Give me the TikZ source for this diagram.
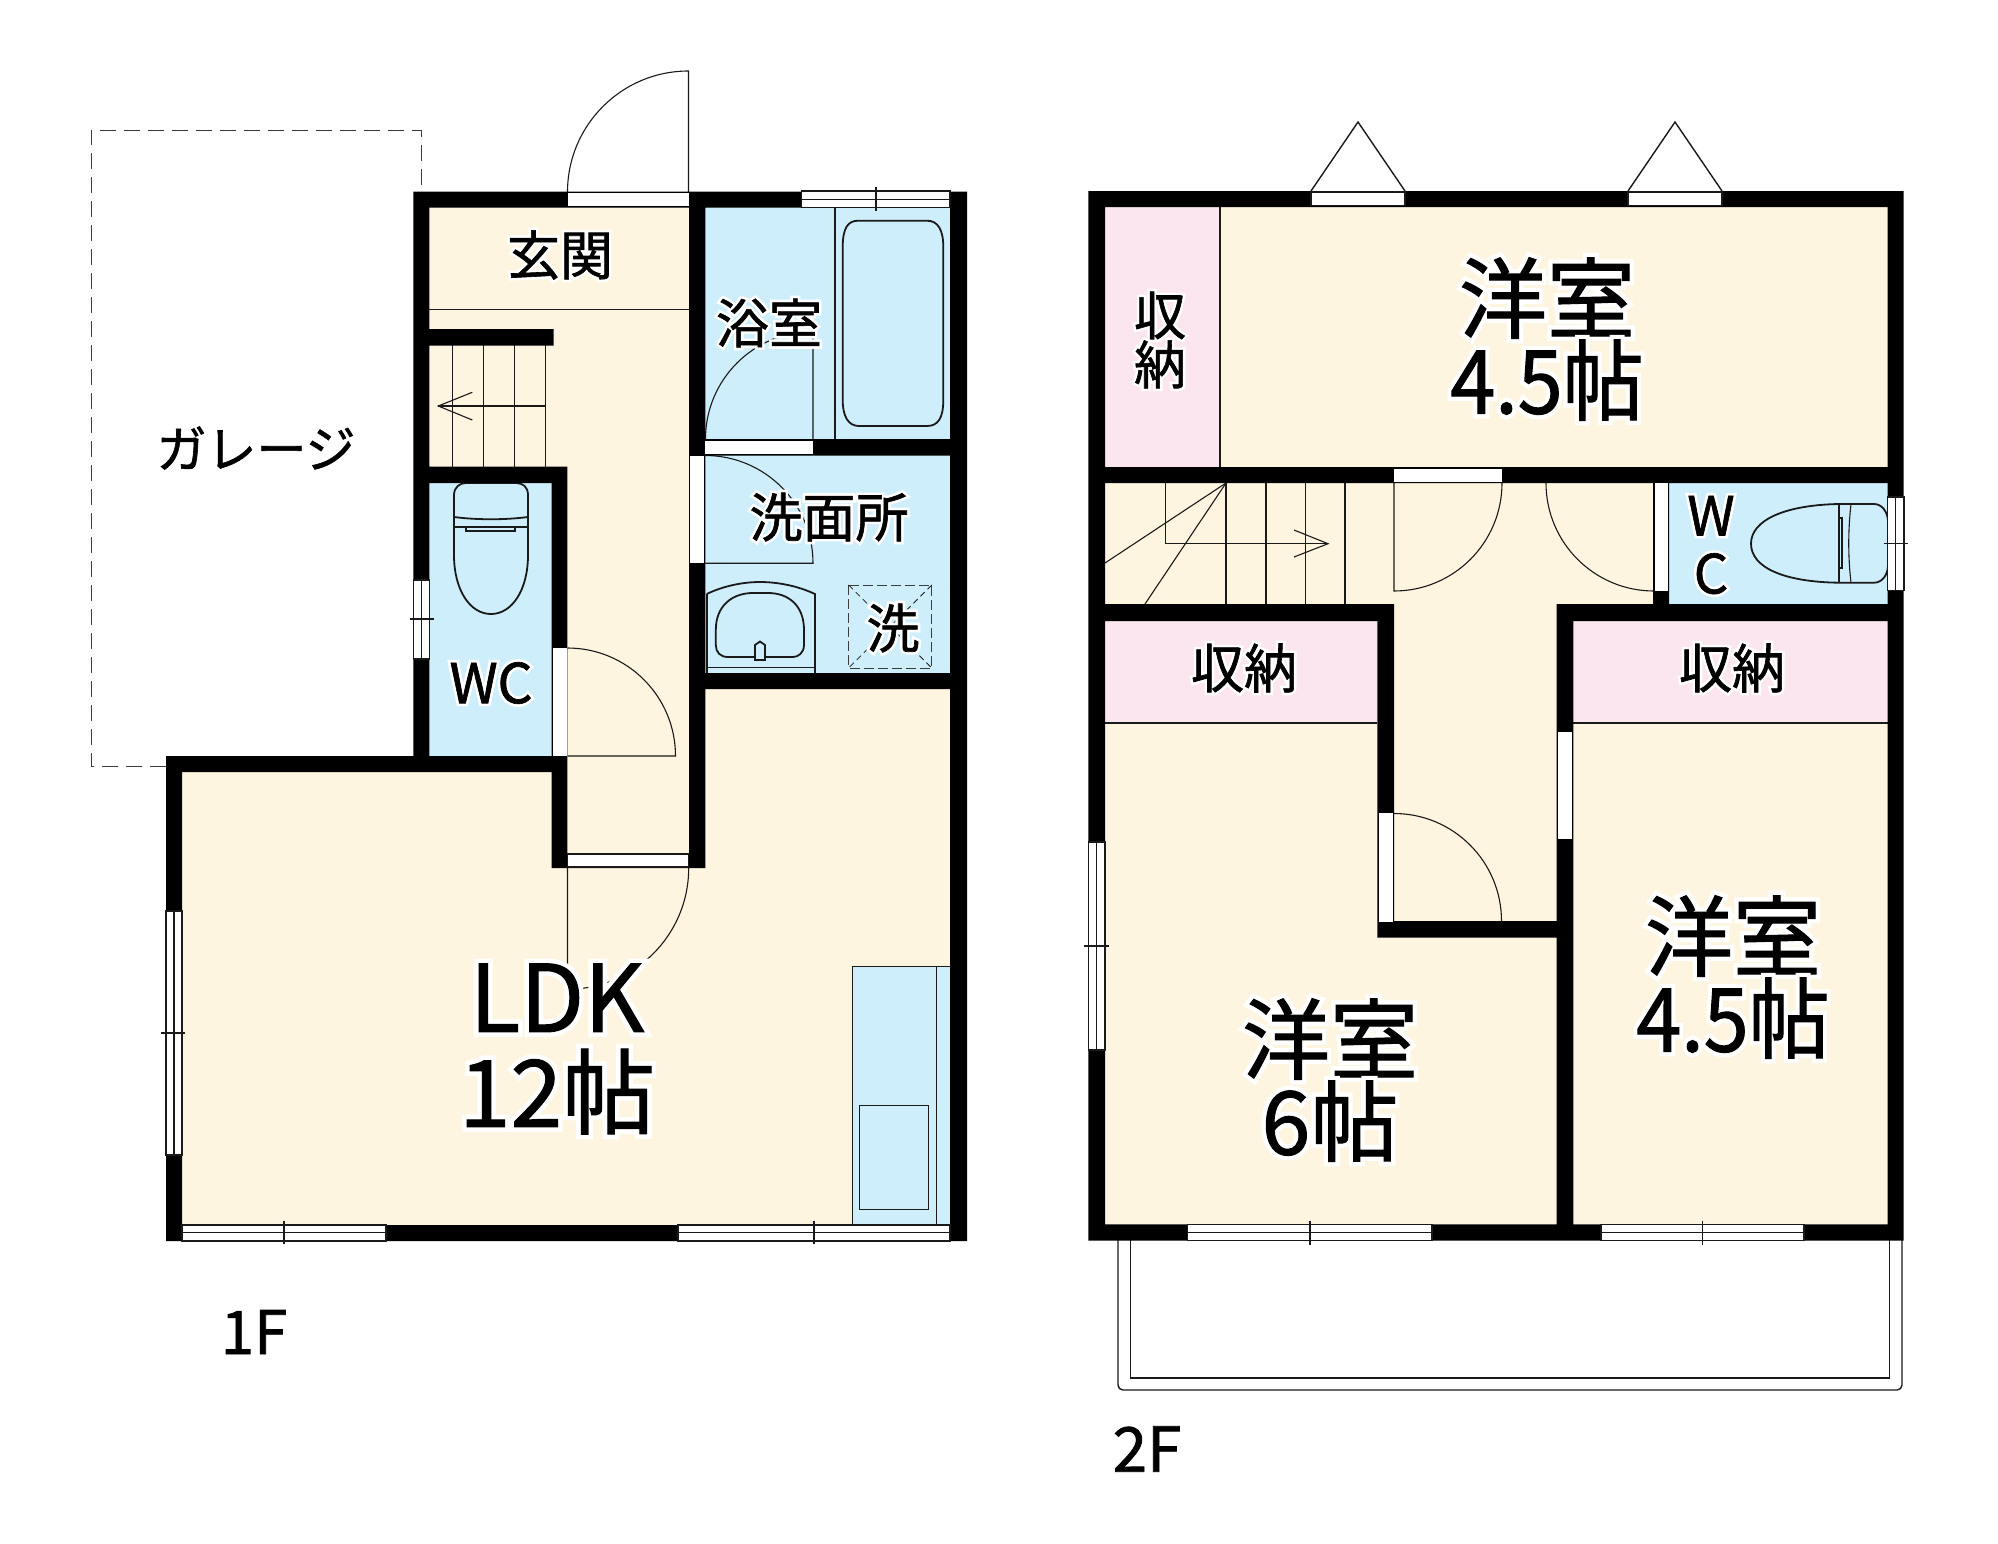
\documentclass[tikz,border=0pt]{standalone}
\usepackage{fontspec}
\newfontfamily\tfn[FakeBold=1.2]{Noto Sans CJK JP}
\newfontfamily\hfn[FakeBold=11]{Noto Sans CJK JP}
\newcommand{\HL}[1]{\leavevmode\rlap{\color{white}\hfn #1}{\color{black}\tfn #1}}
\newcommand{\fsz}[1]{\fontsize{#1}{#1}\selectfont}
\definecolor{cream}{HTML}{FEF5E1}
\definecolor{sky}{HTML}{CFEEFC}
\definecolor{pinkish}{HTML}{FBE6F0}
\definecolor{linec}{HTML}{1A1A1A}
\tikzset{
  thinln/.style={draw=linec,line width=0.7pt},
  fine/.style={draw=linec,line width=0.55pt},
  fixt/.style={draw=linec,line width=0.9pt},
  winbox/.style={draw=linec,fill=white,line width=0.6pt},
  plainwin/.style={fill=white},
  dashln/.style={draw=linec!85,line width=0.45pt,dash pattern=on 8pt off 4pt},
  lbl/.style={inner sep=0pt,align=center}
}
\begin{document}
\begin{tikzpicture}[x=0.5pt,y=-0.5pt]
\useasboundingbox (0,0) rectangle (1998,1543);
\fill[white] (0,0) rectangle (1998,1543);
% ---------- 1F floors
\fill[cream] (429,207) -- (689,207) -- (689,868) -- (567,868) -- (567,467) -- (429,467) -- cycle;
\fill[cream] (182,772) -- (552,772) -- (552,860) -- (705,860) -- (705,689) -- (950,689) -- (950,1225) -- (182,1225) -- cycle;
\fill[sky] (705,207) rectangle (950,439);
\fill[sky] (705,455) rectangle (950,673);
\fill[sky] (429,483) rectangle (552,756);
\fill[sky] (852.7,966.7) rectangle (950,1225);
% ---------- 2F floors
\fill[pinkish] (1105,207) rectangle (1220,467);
\fill[cream] (1220,207) rectangle (1888,467);
\fill[cream] (1105,483) -- (1655,483) -- (1655,604) -- (1557,604) -- (1557,925) -- (1394,925) -- (1394,604) -- (1105,604) -- cycle;
\fill[sky] (1669,483) rectangle (1888,604);
\fill[pinkish] (1105,621) rectangle (1377,723);
\fill[pinkish] (1573,621) rectangle (1888,723);
\fill[cream] (1105,723) -- (1377,723) -- (1377,935) -- (1557,935) -- (1557,1224) -- (1105,1224) -- cycle;
\fill[cream] (1573,723) rectangle (1888,1224);
% ---------- garage
\draw[dashln] (166,766) -- (91,766) -- (91,130) -- (421,130) -- (421,188);
% ---------- balcony
\draw[thinln] (1118,1240) -- (1118,1385) arc[start angle=180,end angle=90,radius=5] -- (1897,1390) arc[start angle=90,end angle=0,radius=5] -- (1902,1240);
\draw[thinln] (1130.3,1240) -- (1130.3,1378) -- (1889.7,1378) -- (1889.7,1240);
% ---------- 1F fine lines
\draw[fine] (429,309.3) -- (689,309.3);
\foreach \sx in {452.3,483.3,514.3,545.3} \draw[fine] (\sx,345) -- (\sx,467);
\draw[fine] (545.3,406) -- (438.3,406);
\draw[fine] (472.3,392.3) -- (438.3,406) -- (472.3,420);
% doors 1F
\draw[fine] (567.5,192) arc[start angle=180,end angle=270,radius=121] -- (688.5,192);
\draw[fine] (705.5,439) arc[start angle=180,end angle=270,radius=107.5] -- (813,439);
\draw[fine] (705.3,455.5) arc[start angle=270,end angle=360,radius=107.7] -- (705.3,563.2);
\draw[fine] (567.5,648) arc[start angle=270,end angle=360,radius=108] -- (567.5,756);
\draw[fine] (688.7,868) arc[start angle=0,end angle=90,radius=121.2] -- (567.5,868);
% bath
\draw[fixt] (835,207.7) -- (835,439);
\draw[fixt] (842.7,247) .. controls (842.7,228) and (848,220.7) .. (858,220.7) -- (927,220.7) .. controls (938,220.7) and (943.3,230) .. (943.3,247) -- (943.3,400) .. controls (943.3,418) and (938,426) .. (927,426) -- (859,426) .. controls (848,426) and (842.7,416) .. (842.7,400) -- cycle;
% toilet 1F
\draw[fixt] (454,517) -- (454,495) .. controls (454,487) and (460,483) .. (466,483) -- (516,483) .. controls (523,483) and (528,487) .. (528,495) -- (528,517) .. controls (505,520) and (477,520) .. (454,517) -- cycle;
\draw[fixt] (454,517) -- (454,555) .. controls (454,590) and (470,614) .. (491,614) .. controls (512,614) and (528,590) .. (528,555) -- (528,517);
\draw[fine] (455,527) -- (466,527) -- (466,531) -- (515,531) -- (515,527) -- (527,527);
\draw[fine] (466,527) -- (515,527);
% sink
\draw[fixt] (706.8,594) .. controls (723,586) and (743,582) .. (760,582) .. controls (778,582) and (798,586) .. (814.9,594) -- (814.9,673);
\draw[fixt] (706.8,594) -- (706.8,673);
\draw[fixt] (715.8,630) .. controls (715.8,605) and (733,593) .. (753,593) -- (768,593) .. controls (788,593) and (804,605) .. (804,630) -- (804,645) .. controls (804,653) and (798,657) .. (793,657) -- (728,657) .. controls (720,657) and (715.8,652) .. (715.8,645) -- cycle;
\draw[fixt,fill=sky] (755,645) -- (760,641.5) -- (765,645) -- (765,660) -- (755,660) -- cycle;
\draw[fine] (706.8,667.5) -- (814.9,667.5);
% washer
\draw[dashln,dash pattern=on 5pt off 2pt] (848.6,585) rectangle (931.8,668);
\draw[fine,line width=0.4pt,dash pattern=on 3pt off 2pt] (848.6,585) -- (931.8,668);
\draw[fine,line width=0.4pt,dash pattern=on 3pt off 2pt] (931.8,585) -- (848.6,668);
% kitchen
\draw[thinln] (950,966.7) -- (852.7,966.7) -- (852.7,1225);
\draw[thinln] (936.7,966.7) -- (936.7,1225);
\draw[thinln] (859.7,1105.7) rectangle (928.7,1209.3);
% ---------- 2F fine lines
\draw[fine] (1220,207) -- (1220,467);
\draw[fine] (1105,723) -- (1377,723);
\draw[fine] (1573,723) -- (1888,723);
\foreach \sx in {1226,1266,1305.5,1345} \draw[fine] (\sx,483) -- (\sx,604);
\draw[fine] (1226,483) -- (1105,563);
\draw[fine] (1226,483) -- (1145,604);
\draw[fine] (1165.6,483) -- (1165.6,543.7) -- (1328,543.7);
\draw[fine] (1294,530) -- (1328,543.7) -- (1294,557);
\draw[fine] (1502,483) arc[start angle=0,end angle=90,radius=108] -- (1394,483);
\draw[fine] (1546,483) arc[start angle=180,end angle=90,radius=108];
\draw[fine] (1394,813.5) arc[start angle=270,end angle=360,radius=107.5];
% triangles
\draw[thinln] (1311,191) -- (1358,122) -- (1405,191);
\draw[thinln] (1628,191) -- (1675,122) -- (1722,191);
% toilet 2F
\draw[fixt] (1839,504) .. controls (1785,505) and (1751,520) .. (1751,543.7) .. controls (1751,568) and (1785,582) .. (1839,582.7) -- (1851,582.7) -- (1874,582.7) .. controls (1882,582.7) and (1888,575) .. (1888,565) -- (1888,522) .. controls (1888,512) and (1882,504) .. (1874,504) -- cycle;
\draw[fine] (1851,504) .. controls (1848,530) and (1848,557) .. (1851,582.7);
\draw[fixt] (1839,504) -- (1839,582.7);
\draw[fine] (1839,518) rectangle (1842,568);
% ---------- walls
\fill[black]
  % 1F
  (413.3,191.7) rectangle (967,207.7)
  (413.3,191.7) rectangle (429.3,772)
  (413.3,329) rectangle (553.7,345.7)
  (413.3,466.7) rectangle (567.3,483)
  (551.5,466.7) rectangle (567.3,868)
  (166,756) rectangle (567.3,772)
  (166,756) rectangle (182,1241)
  (166,1225) rectangle (967,1241)
  (950,191.7) rectangle (967,1241)
  (689,191.7) rectangle (705.3,868)
  (551.5,853) rectangle (705.3,868)
  (689,439) rectangle (967,455.7)
  (689,673) rectangle (967,689)
  % 2F
  (1088.3,191) rectangle (1903.7,207)
  (1088.3,191) rectangle (1105,1240.7)
  (1887.7,191) rectangle (1903.7,1240.7)
  (1088.3,1224.3) rectangle (1903.7,1240.7)
  (1088.3,467) rectangle (1903.7,483)
  (1088.3,604) rectangle (1394,621)
  (1556.7,604) rectangle (1903.7,621)
  (1377.3,604) rectangle (1394,937.7)
  (1556.7,604) rectangle (1573.3,1240.7)
  (1377.3,921) rectangle (1573.3,937.7)
  (1653,483) rectangle (1669,604);
% ---------- doors and windows 1F
\fill[plainwin] (567.5,193) rectangle (688.7,206);
\fill[plainwin] (705.3,441) rectangle (813,454);
\fill[plainwin] (690,456) rectangle (704,563);
\fill[plainwin] (553,648) rectangle (566.5,756);
\draw[winbox] (567.5,854) rectangle (688.7,867);
% 1F bath window
\draw[winbox] (801.7,191) rectangle (950,207.7);
\draw[fine] (801.7,199.3) -- (950,199.3);
\draw[fine] (876,187) -- (876,211);
% 1F WC window
\draw[winbox] (413.5,580) rectangle (429.3,659);
\draw[fine] (421.5,580) -- (421.5,659);
\draw[fine] (410,619) -- (434,619);
% LDK windows
\draw[winbox] (166,911) rectangle (182,1155);
\draw[fine] (174,911) -- (174,1155);
\draw[fine] (161,1033) -- (185,1033);
\draw[winbox] (182,1225) rectangle (386,1241);
\draw[fine] (182,1232.5) -- (386,1232.5);
\draw[fine] (284,1220.7) -- (284,1244.3);
\draw[winbox] (678,1225) rectangle (950,1241);
\draw[fine] (678,1232.5) -- (950,1232.5);
\draw[fine] (814,1220.7) -- (814,1244.3);
% ---------- doors and windows 2F
\draw[winbox] (1311,192) rectangle (1405,205.5);
\draw[winbox] (1628,192) rectangle (1722,205.5);
\fill[plainwin] (1394,469) rectangle (1502,482);
\fill[plainwin] (1655,483) rectangle (1668,591);
\fill[plainwin] (1379.3,813.3) rectangle (1392.7,921.7);
\fill[plainwin] (1558,732) rectangle (1572,838.7);
\draw[winbox] (1887.7,497) rectangle (1904,590.7);
\draw[fine] (1895.7,497) -- (1895.7,590.7);
\draw[fine] (1884,543.7) -- (1908,543.7);
\draw[winbox] (1088.3,842) rectangle (1105,1050);
\draw[fine] (1096.6,842) -- (1096.6,1050);
\draw[fine] (1084,946) -- (1109,946);
\draw[winbox] (1187.7,1224.3) rectangle (1432,1240.7);
\draw[fine] (1187.7,1232.7) -- (1432,1232.7);
\draw[fine] (1310,1220.7) -- (1310,1245);
\draw[winbox] (1601,1224.3) rectangle (1804,1240.7);
\draw[fine] (1601,1232.7) -- (1804,1232.7);
\draw[fine] (1702.7,1220.7) -- (1702.7,1245);
% ---------- labels
\node[lbl,font=\fsz{25}] (garage) at (256,448) {\HL{ガレージ}};
\node[lbl,font=\fsz{26.5}] (genkan) at (560,255) {\HL{玄関}};
\node[lbl,font=\fsz{26.5}] (bath) at (769,323) {\HL{浴室}};
\node[lbl,font=\fsz{26.5}] (wash) at (829,517) {\HL{洗面所}};
\node[lbl,font=\fsz{26.5}] (washer) at (893,628) {\HL{洗}};
\node[lbl,font=\fsz{27.5}] (wc1) at (491,683) {\HL{WC}};
\node[lbl,font=\fontsize{46.5}{47.5}\selectfont] (ldk) at (557,1049) {\HL{LDK}\\\HL{12帖}};
\node[lbl,font=\fsz{30}] (f1) at (254,1332) {\HL{1F}};
\node[lbl,font=\fontsize{26}{24.5}\selectfont] (st1) at (1160,340) {\HL{収}\\\HL{納}};
\node[lbl,font=\fontsize{44}{41}\selectfont] (room1) at (1547,339) {\HL{洋室}\\\HL{\scalebox{.92}[1]{4.5帖}}};
\node[lbl,font=\fontsize{27}{29}\selectfont] (wc2) at (1711,545) {\HL{W}\\\HL{C}};
\node[lbl,font=\fsz{26.5}] (st2) at (1244,668) {\HL{収納}};
\node[lbl,font=\fsz{26.5}] (st3) at (1732,668) {\HL{収納}};
\node[lbl,font=\fontsize{44}{41}\selectfont] (room2) at (1733,977) {\HL{洋室}\\\HL{\scalebox{.92}[1]{4.5帖}}};
\node[lbl,font=\fontsize{44}{41}\selectfont] (room3) at (1330,1080) {\HL{洋室}\\\HL{6帖}};
\node[lbl,font=\fsz{31}] (f2) at (1147,1449) {\HL{2F}};
\end{tikzpicture}
\end{document}
